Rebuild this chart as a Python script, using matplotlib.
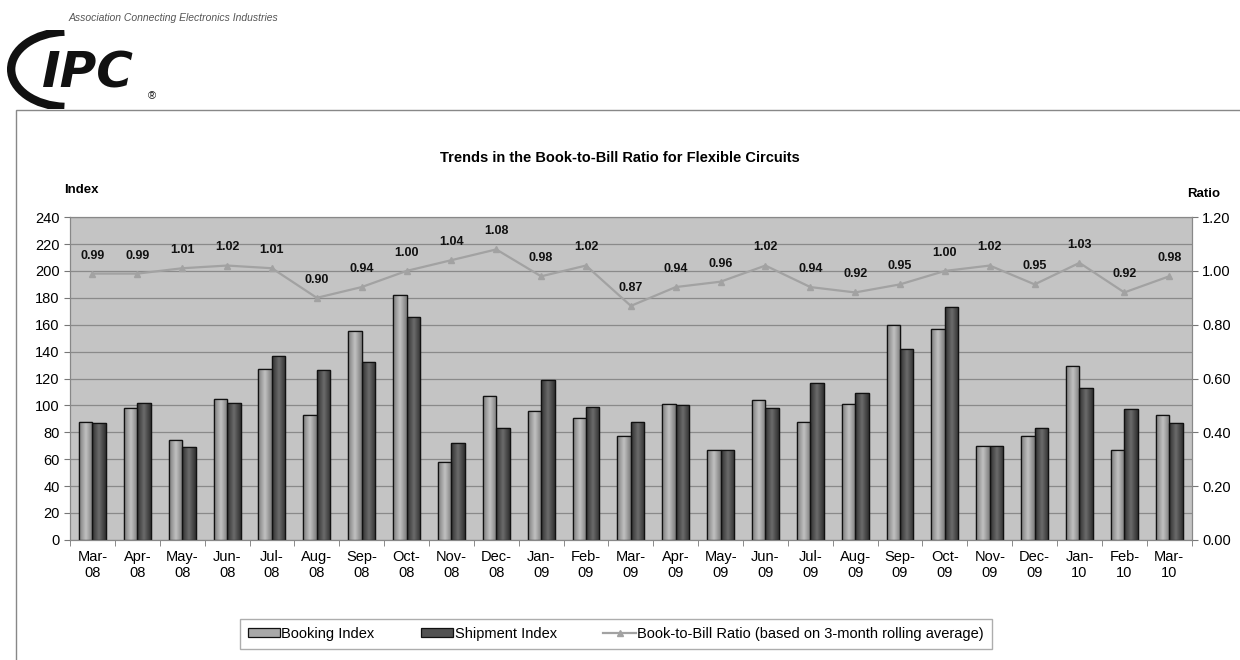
import numpy as np
import matplotlib
matplotlib.use("Agg")
import matplotlib.pyplot as plt
from matplotlib.patches import Rectangle, Arc

# Data
months = ["Mar-\n08", "Apr-\n08", "May-\n08", "Jun-\n08", "Jul-\n08", "Aug-\n08", "Sep-\n08",
          "Oct-\n08", "Nov-\n08", "Dec-\n08", "Jan-\n09", "Feb-\n09", "Mar-\n09", "Apr-\n09",
          "May-\n09", "Jun-\n09", "Jul-\n09", "Aug-\n09", "Sep-\n09", "Oct-\n09", "Nov-\n09",
          "Dec-\n09", "Jan-\n10", "Feb-\n10", "Mar-\n10"]
booking = [88, 98, 74, 105, 127, 93, 155, 182, 58, 107, 96, 91, 77, 101,
           67, 104, 88, 101, 160, 157, 70, 77, 129, 67, 93]
shipment = [87, 102, 69, 102, 137, 126, 132, 166, 72, 83, 119, 99, 88, 100,
            67, 98, 117, 109, 142, 173, 70, 83, 113, 97, 87]
ratio = [0.99, 0.99, 1.01, 1.02, 1.01, 0.90, 0.94, 1.00, 1.04, 1.08, 0.98, 1.02, 0.87, 0.94,
         0.96, 1.02, 0.94, 0.92, 0.95, 1.00, 1.02, 0.95, 1.03, 0.92, 0.98]

plt.rcParams['font.family'] = ['Liberation Sans', 'DejaVu Sans']

fig = plt.figure(figsize=(12.4, 6.6), dpi=100)

# header: tagline + logo
fig.text(0.055, 0.972, "Association Connecting Electronics Industries", fontsize=7.5,
         style='italic', color='#555555', ha='left', va='center')
fig.text(0.034, 0.888, "IPC", fontsize=36, fontweight='bold', style='italic',
         color='#111111', ha='left', va='center', family='DejaVu Sans')
fig.text(0.119, 0.855, "®", fontsize=8, color='#111111', ha='left', va='center')
logo = fig.add_axes([0.004, 0.835, 0.06, 0.12])
logo.add_patch(Arc((1.0, 0.5), 1.8, 0.95, theta1=95, theta2=265, lw=6, color='#111111'))
logo.set_xlim(0, 1.2)
logo.set_ylim(0, 1)
logo.axis('off')

# frame around the chart area
fig.patches.append(Rectangle((0.013, -0.01), 1.0, 0.843, transform=fig.transFigure,
                             fill=False, edgecolor='#888888', lw=1.0))

ax = fig.add_axes([0.0565, 0.182, 0.9045, 0.489])
x = np.arange(len(months))
w = 0.3
ax.set_facecolor('#c4c4c4')
b1 = ax.bar(x - w / 2, booking, w, color='#a8a8a8', edgecolor='#111111', lw=0.9, zorder=3,
            label='Booking Index')
b2 = ax.bar(x + w / 2, shipment, w, color='#525252', edgecolor='#111111', lw=0.9, zorder=3,
            label='Shipment Index')

# horizontal shading inside each bar, like the original
grad = np.abs(np.linspace(-1, 1, 64))[None, :]
for bars, cmap in [(b1, plt.matplotlib.colors.LinearSegmentedColormap.from_list(
                        'b', ['#c0c0c0', '#7c7c7c'])),
                   (b2, plt.matplotlib.colors.LinearSegmentedColormap.from_list(
                        's', ['#6a6a6a', '#303030']))]:
    for p in bars:
        x0, y0 = p.get_x(), p.get_y()
        im = ax.imshow(grad, cmap=cmap, aspect='auto', zorder=3.5,
                       extent=[x0, x0 + p.get_width(), y0, y0 + p.get_height()])
        im.set_clip_path(p)
    for p in bars:
        ax.add_patch(Rectangle((p.get_x(), p.get_y()), p.get_width(), p.get_height(),
                               fill=False, edgecolor='#111111', lw=0.9, zorder=3.6))

ax.set_ylim(0, 240)
ax.set_xlim(-0.5, len(months) - 0.5)
ax.set_yticks(np.arange(0, 241, 20))
ax.set_xticks(x)
ax.set_xticklabels(months, fontsize=10.5, linespacing=1.25)
ax.set_xticks(np.arange(-0.5, len(months), 1), minor=True)
ax.tick_params(axis='x', which='major', length=0, pad=7)
ax.tick_params(axis='x', which='minor', length=4, color='#777777')
ax.tick_params(axis='y', labelsize=10.5, length=4, color='#777777')
ax.grid(axis='y', color='#8a8a8a', lw=0.9, zorder=0)
for s in ax.spines.values():
    s.set_color('#888888')

ax2 = ax.twinx()
ax2.plot(x, ratio, color='#a2a2a2', lw=1.6, marker='^', ms=5, zorder=4,
         label='Book-to-Bill Ratio (based on 3-month rolling average)')
for xi, r in zip(x, ratio):
    ax2.text(xi, r + 0.045, f"{r:.2f}", ha='center', va='bottom', fontsize=9,
             fontweight='bold', color='#111111')
ax2.set_ylim(0, 1.2)
ax2.set_yticks(np.arange(0, 1.21, 0.2))
ax2.set_yticklabels([f"{v:.2f}" for v in np.arange(0, 1.21, 0.2)])
ax2.tick_params(axis='y', labelsize=10.5, length=4, color='#777777')
for s in ax2.spines.values():
    s.set_color('#888888')

fig.text(0.5, 0.76, "Trends in the Book-to-Bill Ratio for Flexible Circuits",
         ha='center', va='center', fontsize=10.5, fontweight='bold')
fig.text(0.052, 0.712, "Index", ha='left', va='center', fontsize=9.5, fontweight='bold')
fig.text(0.957, 0.706, "Ratio", ha='left', va='center', fontsize=9.5, fontweight='bold')

h1, l1 = ax.get_legend_handles_labels()
h2, l2 = ax2.get_legend_handles_labels()
leg = fig.legend(h1 + h2, l1 + l2, loc='center', bbox_to_anchor=(0.4965, 0.04), ncol=3,
                 fontsize=10.5, frameon=True, fancybox=False, edgecolor='#999999',
                 handlelength=2.2, handleheight=0.5, columnspacing=3.2, handletextpad=0.1,
                 borderpad=0.55, borderaxespad=0)
leg.get_frame().set_boxstyle('square', pad=0)
for t in leg.get_texts():
    pass

fig.savefig("out.png", dpi=100, facecolor='white')
